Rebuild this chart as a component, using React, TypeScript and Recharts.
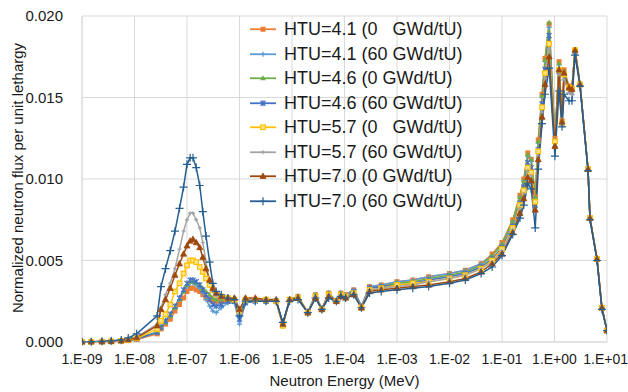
import React from 'react';
import { LineChart, Line, XAxis, YAxis, CartesianGrid, Legend } from 'recharts';

// Neutron energy groups (MeV)
const energies = [1.0e-9, 1.5e-9, 2.4e-9, 3.6e-9, 5.6e-9, 7.6e-9, 1.1e-8, 2.7e-8, 3.2e-8, 3.9e-8, 4.8e-8, 5.9e-8, 7.2e-8, 8.6e-8, 1.0e-7, 1.15e-7, 1.3e-7, 1.5e-7, 1.75e-7, 2.0e-7, 2.3e-7, 2.7e-7, 3.1e-7, 3.6e-7, 4.5e-7, 6.0e-7, 8.0e-7, 1.0e-6, 1.3e-6, 2.0e-6, 3.2e-6, 5.0e-6, 6.7e-6, 9.0e-6, 1.3e-5, 2.0e-5, 2.8e-5, 3.7e-5, 5.0e-5, 7.0e-5, 8.5e-5, 1.05e-4, 1.5e-4, 2.1e-4, 3.0e-4, 5.0e-4, 1.0e-3, 2.0e-3, 4.0e-3, 1.0e-2, 2.0e-2, 4.0e-2, 6.5e-2, 0.1, 0.16, 0.22, 0.26, 0.31, 0.36, 0.43, 0.49, 0.58, 0.66, 0.79, 1.02, 1.22, 1.39, 1.52, 1.89, 2.15, 2.46, 3.06, 4.35, 4.74, 6.45, 8.0, 10];

const htu41_0 = [0.00001, 0.00001, 0.00002, 0.00003, 0.00005, 0.00009, 0.00016, 0.0005, 0.0008, 0.0011, 0.0014, 0.0019, 0.0023, 0.0027, 0.0031, 0.0033, 0.0033, 0.0032, 0.0031, 0.0029, 0.0027, 0.0026, 0.0025, 0.0025, 0.0025, 0.0025, 0.0025, 0.0019,
  0.0025, 0.0026, 0.0025, 0.0025, 0.0010, 0.0026, 0.0028, 0.0018, 0.0029, 0.0020, 0.0030, 0.0025, 0.0030, 0.0029, 0.0032, 0.0022, 0.0034, 0.0035, 0.0037, 0.0038, 0.0040, 0.0042, 0.0044, 0.0048, 0.0054,
  0.0061, 0.0075, 0.0090, 0.0100, 0.0116, 0.0112, 0.0089, 0.0124, 0.0152, 0.0174, 0.0195, 0.0125, 0.0172, 0.0136, 0.0167, 0.0157, 0.0156, 0.0179, 0.0158, 0.0106, 0.0076, 0.0051, 0.0021, 0.0007];

const htu41_60 = [0.00001, 0.00001, 0.00002, 0.00003, 0.00005, 0.0001, 0.00017, 0.0006, 0.0009, 0.0012, 0.0016, 0.0021, 0.0026, 0.0031, 0.0034, 0.0036, 0.0036, 0.0035, 0.0033, 0.0030, 0.0026, 0.0022, 0.0019, 0.0018, 0.0021, 0.0024, 0.0024, 0.0011,
  0.0024, 0.0025, 0.0025, 0.0025, 0.0011, 0.0026, 0.0028, 0.0018, 0.0029, 0.0020, 0.0030, 0.0025, 0.0030, 0.0029, 0.0032, 0.0022, 0.0034, 0.0035, 0.0037, 0.0038, 0.0040, 0.0042, 0.0044, 0.0048, 0.0053,
  0.0060, 0.0074, 0.0089, 0.0099, 0.0114, 0.0111, 0.0088, 0.0122, 0.0150, 0.0172, 0.0193, 0.0124, 0.0170, 0.0135, 0.0165, 0.0156, 0.0155, 0.0179, 0.0158, 0.0106, 0.0076, 0.0051, 0.0021, 0.0007];

const htu46_0 = [0.00001, 0.00001, 0.00002, 0.00003, 0.00005, 0.0001, 0.00018, 0.0006, 0.0009, 0.0012, 0.0016, 0.0021, 0.0026, 0.0031, 0.0035, 0.0037, 0.0037, 0.0036, 0.0035, 0.0033, 0.0031, 0.0029, 0.0027, 0.0026, 0.0026, 0.0026, 0.0025, 0.0019,
  0.0025, 0.0026, 0.0025, 0.0025, 0.0011, 0.0026, 0.0028, 0.0018, 0.0029, 0.0020, 0.0030, 0.0025, 0.0030, 0.0028, 0.0031, 0.0021, 0.0033, 0.0034, 0.0036, 0.0037, 0.0039, 0.0041, 0.0043, 0.0047, 0.0053,
  0.0060, 0.0074, 0.0089, 0.0099, 0.0115, 0.0112, 0.0089, 0.0123, 0.0151, 0.0173, 0.0196, 0.0124, 0.0171, 0.0136, 0.0166, 0.0156, 0.0156, 0.0179, 0.0158, 0.0106, 0.0076, 0.0051, 0.0021, 0.0007];

const htu46_60 = [0.00001, 0.00001, 0.00002, 0.00003, 0.00005, 0.0001, 0.00018, 0.0006, 0.0009, 0.0013, 0.0017, 0.0022, 0.0027, 0.0032, 0.0036, 0.0038, 0.0038, 0.0037, 0.0035, 0.0032, 0.0029, 0.0026, 0.0023, 0.0022, 0.0023, 0.0025, 0.0025, 0.0014,
  0.0024, 0.0025, 0.0025, 0.0025, 0.0011, 0.0026, 0.0027, 0.0018, 0.0028, 0.0020, 0.0029, 0.0025, 0.0029, 0.0028, 0.0031, 0.0021, 0.0033, 0.0034, 0.0035, 0.0036, 0.0038, 0.0040, 0.0042, 0.0046, 0.0051,
  0.0058, 0.0071, 0.0085, 0.0095, 0.0110, 0.0107, 0.0084, 0.0118, 0.0146, 0.0167, 0.0188, 0.0121, 0.0166, 0.0134, 0.0162, 0.0154, 0.0153, 0.0178, 0.0158, 0.0106, 0.0076, 0.0051, 0.0021, 0.0007];

const htu57_0 = [0.00001, 0.00001, 0.00002, 0.00004, 0.00007, 0.00012, 0.00022, 0.0008, 0.0013, 0.0017, 0.0023, 0.0031, 0.0036, 0.0042, 0.0047, 0.0050, 0.0050, 0.0049, 0.0046, 0.0043, 0.0039, 0.0035, 0.0032, 0.0029, 0.0028, 0.0027, 0.0026, 0.0019,
  0.0026, 0.0026, 0.0026, 0.0025, 0.0010, 0.0026, 0.0027, 0.0018, 0.0028, 0.0020, 0.0029, 0.0025, 0.0029, 0.0028, 0.0030, 0.0021, 0.0032, 0.0033, 0.0035, 0.0036, 0.0037, 0.0039, 0.0041, 0.0045, 0.0050,
  0.0057, 0.0070, 0.0084, 0.0093, 0.0107, 0.0104, 0.0086, 0.0117, 0.0144, 0.0165, 0.0183, 0.0123, 0.0167, 0.0134, 0.0164, 0.0156, 0.0155, 0.0179, 0.0158, 0.0106, 0.0076, 0.0051, 0.0021, 0.0007];

const htu57_60 = [0.00001, 0.00002, 0.00003, 0.00005, 0.0001, 0.00017, 0.0003, 0.0011, 0.0021, 0.0029, 0.0036, 0.0045, 0.0057, 0.0068, 0.0075, 0.0079, 0.0079, 0.0075, 0.0070, 0.0061, 0.0049, 0.0037, 0.0031, 0.0028, 0.0027, 0.0026, 0.0026, 0.0017,
  0.0026, 0.0026, 0.0026, 0.0025, 0.0011, 0.0026, 0.0027, 0.0018, 0.0028, 0.0020, 0.0029, 0.0025, 0.0029, 0.0028, 0.0030, 0.0021, 0.0032, 0.0033, 0.0034, 0.0035, 0.0037, 0.0039, 0.0041, 0.0045, 0.0049,
  0.0056, 0.0069, 0.0082, 0.0091, 0.0105, 0.0102, 0.0082, 0.0114, 0.0141, 0.0162, 0.0180, 0.0120, 0.0164, 0.0133, 0.0161, 0.0153, 0.0152, 0.0178, 0.0158, 0.0106, 0.0076, 0.0051, 0.0021, 0.0007];

const htu70_0 = [0.00001, 0.00002, 0.00003, 0.00005, 0.00009, 0.00015, 0.00027, 0.0010, 0.0020, 0.0026, 0.0033, 0.0041, 0.0048, 0.0054, 0.0059, 0.0062, 0.0063, 0.0061, 0.0058, 0.0052, 0.0045, 0.0038, 0.0033, 0.0030, 0.0028, 0.0027, 0.0027, 0.0020,
  0.0027, 0.0027, 0.0026, 0.0026, 0.0011, 0.0026, 0.0027, 0.0018, 0.0027, 0.0020, 0.0028, 0.0025, 0.0028, 0.0027, 0.0029, 0.0021, 0.0031, 0.0032, 0.0033, 0.0034, 0.0035, 0.0037, 0.0039, 0.0043, 0.0048,
  0.0054, 0.0067, 0.0079, 0.0088, 0.0101, 0.0099, 0.0081, 0.0112, 0.0138, 0.0158, 0.0175, 0.0120, 0.0167, 0.0135, 0.0165, 0.0156, 0.0155, 0.0179, 0.0158, 0.0106, 0.0076, 0.0051, 0.0021, 0.0007];

const htu70_60 = [0.00001, 0.00002, 0.00004, 0.00007, 0.00013, 0.00025, 0.0005, 0.0016, 0.0034, 0.0045, 0.0056, 0.0068, 0.0082, 0.0095, 0.0109, 0.0113, 0.0113, 0.0107, 0.0096, 0.0080, 0.0065, 0.0049, 0.0036, 0.0031, 0.0029, 0.0027, 0.0026, 0.0016,
  0.0025, 0.0025, 0.0025, 0.0025, 0.0012, 0.0025, 0.0026, 0.0018, 0.0027, 0.0020, 0.0027, 0.0025, 0.0028, 0.0027, 0.0029, 0.0021, 0.0030, 0.0031, 0.0032, 0.0033, 0.0034, 0.0036, 0.0038, 0.0042, 0.0046,
  0.0053, 0.0066, 0.0076, 0.0084, 0.0097, 0.0094, 0.0070, 0.0106, 0.0134, 0.0152, 0.0168, 0.0114, 0.0154, 0.0132, 0.0152, 0.0148, 0.0148, 0.0176, 0.0157, 0.0105, 0.0075, 0.0050, 0.0020, 0.0007];

const seriesNames = [
  'HTU=4.1 (0   GWd/tU)',
  'HTU=4.1 (60 GWd/tU)',
  'HTU=4.6 (0 GWd/tU)',
  'HTU=4.6 (60 GWd/tU)',
  'HTU=5.7 (0   GWd/tU)',
  'HTU=5.7 (60 GWd/tU)',
  'HTU=7.0 (0 GWd/tU)',
  'HTU=7.0 (60 GWd/tU)',
];
const seriesColors = ['#ED7D31', '#5B9BD5', '#70AD47', '#4472C4', '#FFC000', '#A5A5A5', '#9E480E', '#255E91'];
const seriesShapes = ['square', 'dash', 'triangle', 'cross', 'hsquare', 'dot', 'htriangle', 'plus'];
const seriesValues = [htu41_0, htu41_60, htu46_0, htu46_60, htu57_0, htu57_60, htu70_0, htu70_60];

const xTicks = [1e-9, 1e-8, 1e-7, 1e-6, 1e-5, 1e-4, 1e-3, 1e-2, 1e-1, 1, 10];
const xTickLabels = ['1.E-09', '1.E-08', '1.E-07', '1.E-06', '1.E-05', '1.E-04', '1.E-03', '1.E-02', '1.E-01', '1.E+00', '1.E+01'];
const yTicks = [0, 0.005, 0.01, 0.015, 0.02];
const yTickLabels = ['0.000', '0.005', '0.010', '0.015', '0.020'];

const xTitle = 'Neutron Energy (MeV)';
const yTitle = 'Normalized neutron flux per unit lethargy';

const keys = seriesNames.map((_, i) => 's' + i);
const data = energies.map((e, i) => {
  const row: any = { E: e };
  keys.forEach((k, j) => { row[k] = seriesValues[j][i]; });
  return row;
});

const FONT = "'Liberation Sans', Arimo, Arial, sans-serif";
const TEXT = '#1a1a1a';

function Marker({ shape, color, cx, cy }: { shape: string; color: string; cx: number; cy: number }) {
  switch (shape) {
    case 'square':
      return <rect x={cx - 2.5} y={cy - 2.5} width={5} height={5} fill={color} />;
    case 'hsquare':
      return <rect x={cx - 2.3} y={cy - 2.3} width={4.6} height={4.6} fill="#FFE28A" stroke={color} strokeWidth={1.2} />;
    case 'triangle':
      return <path d={`M${cx},${cy - 3}L${cx + 2.8},${cy + 2}L${cx - 2.8},${cy + 2}Z`} fill={color} />;
    case 'htriangle':
      return <path d={`M${cx},${cy - 3.2}L${cx + 3},${cy + 2.2}L${cx - 3},${cy + 2.2}Z`} fill={color} stroke={color} strokeWidth={0.8} />;
    case 'cross':
      return <path d={`M${cx - 2.5},${cy - 2.5}L${cx + 2.5},${cy + 2.5}M${cx - 2.5},${cy + 2.5}L${cx + 2.5},${cy - 2.5}M${cx},${cy - 3}V${cy + 3}`} stroke={color} strokeWidth={1.2} fill="none" />;
    case 'plus':
      return <path d={`M${cx - 4},${cy}H${cx + 4}M${cx},${cy - 4}V${cy + 4}`} stroke={color} strokeWidth={1.2} fill="none" />;
    case 'dash':
      return <path d={`M${cx - 2.5},${cy}H${cx + 2.5}M${cx},${cy - 2.5}V${cy + 2.5}`} stroke={color} strokeWidth={1.3} fill="none" />;
    case 'dot':
    default:
      return <path d={`M${cx - 2},${cy}H${cx + 2}M${cx},${cy - 2}V${cy + 2}`} stroke={color} strokeWidth={1.3} fill="none" />;
  }
}

const makeDot = (shape: string, color: string) => (props: any) => {
  const { cx, cy, index } = props;
  if (cx == null || cy == null) return <g key={`d-${shape}-${index}`} />;
  return (
    <g key={`d-${shape}-${index}`}>
      <Marker shape={shape} color={color} cx={cx} cy={cy} />
    </g>
  );
};

const XTick = (props: any) => {
  const { x, y, payload, index } = props;
  const last = index === xTickLabels.length - 1;
  return (
    <text
      x={last ? 628 : x}
      y={y}
      dy="0.71em"
      textAnchor={last ? 'end' : 'middle'}
      fill={TEXT}
      fontSize={14}
      fontFamily={FONT}
    >
      {xTickLabels[index] ?? String(payload.value)}
    </text>
  );
};

const LegendContent = () => (
  <div style={{ fontFamily: FONT, fontSize: 18, color: TEXT }}>
    {seriesNames.map((name, i) => (
      <div key={name} style={{ display: 'flex', alignItems: 'center', height: 24.5 }}>
        <svg width={36} height={24.5} style={{ display: 'block' }}>
          <line x1={2} y1={12.25} x2={28} y2={12.25} stroke={seriesColors[i]} strokeWidth={1.8} />
          <Marker shape={seriesShapes[i]} color={seriesColors[i]} cx={15} cy={12.25} />
        </svg>
        <span style={{ whiteSpace: 'pre', lineHeight: '24.5px' }}>{name}</span>
      </div>
    ))}
  </div>
);

export default function App() {
  return (
    <div style={{ position: 'absolute', left: 0, top: 0, width: 628, height: 392, background: '#fff', fontFamily: FONT }}>
      <LineChart
        width={628}
        height={392}
        data={data}
        margin={{ top: 16, right: 21, bottom: 0, left: 0 }}
      >
        <CartesianGrid stroke="#d9d9d9" strokeWidth={1} />
        <XAxis
          dataKey="E"
          type="number"
          scale="log"
          domain={[1e-9, 10]}
          ticks={xTicks}
          interval={0}
          height={50}
          axisLine={{ stroke: '#d9d9d9' }}
          tickLine={false}
          tickSize={0}
          tickMargin={12}
          tick={<XTick />}
          allowDataOverflow
        />
        <YAxis
          type="number"
          domain={[0, 0.02]}
          ticks={yTicks}
          tickFormatter={(_v: any, i: number) => yTickLabels[i]}
          interval={0}
          width={82}
          axisLine={{ stroke: '#d9d9d9' }}
          tickLine={false}
          tickSize={0}
          tickMargin={19}
          tick={{ fill: TEXT, fontSize: 15, fontFamily: FONT }}
        />
        <Legend
          layout="vertical"
          align="center"
          verticalAlign="middle"
          content={<LegendContent />}
          wrapperStyle={{ left: 248, top: 17, width: 240, height: 200 }}
        />
        {keys.map((k, i) => (
          <Line
            key={k}
            dataKey={k}
            name={seriesNames[i]}
            type="linear"
            stroke={seriesColors[i]}
            strokeWidth={1.5}
            dot={makeDot(seriesShapes[i], seriesColors[i])}
            activeDot={false}
            isAnimationActive={false}
          />
        ))}
      </LineChart>
      <div
        style={{
          position: 'absolute', left: 194.5, top: 371, width: 300, height: 20,
          textAlign: 'center', fontFamily: FONT, fontSize: 15, lineHeight: '20px', color: TEXT, whiteSpace: 'nowrap',
        }}
      >
        {xTitle}
      </div>
      <div
        style={{
          position: 'absolute', left: 18 - 160, top: 178 - 10, width: 320, height: 20,
          textAlign: 'center', fontFamily: FONT, fontSize: 15, lineHeight: '20px', color: TEXT, whiteSpace: 'nowrap',
          transform: 'rotate(-90deg)', transformOrigin: '50% 50%',
        }}
      >
        {yTitle}
      </div>
    </div>
  );
}
